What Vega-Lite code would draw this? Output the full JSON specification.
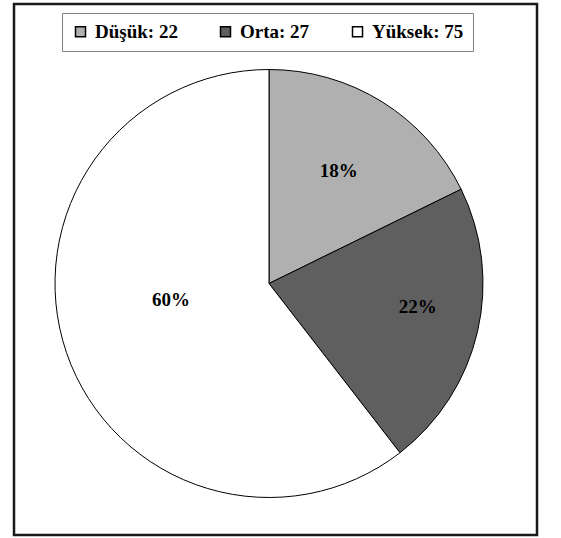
{
  "$schema": "https://vega.github.io/schema/vega-lite/v6.json",
  "width": 523,
  "height": 531,
  "autosize": "none",
  "padding": {"left": 14, "top": 4, "right": 24, "bottom": 3},
  "background": "white",
  "view": {"stroke": "#1a1a1a", "strokeWidth": 2.5},
  "data": {
    "values": [
      {"kategori": "Düşük", "sayi": 22, "sira": 1},
      {"kategori": "Orta", "sayi": 27, "sira": 2},
      {"kategori": "Yüksek", "sayi": 75, "sira": 3}
    ]
  },
  "transform": [
    {"joinaggregate": [{"op": "sum", "field": "sayi", "as": "toplam"}]},
    {"calculate": "format(datum.sayi / datum.toplam, '.0%')", "as": "yuzde"},
    {"calculate": "datum.kategori + ': ' + datum.sayi", "as": "etiket"},
    {"stack": "sayi", "groupby": [], "sort": [{"field": "sira", "order": "ascending"}], "as": ["bas", "son"]},
    {"calculate": "(datum.bas + datum.son) / 2", "as": "orta"}
  ],
  "layer": [
    {
      "mark": {"type": "arc", "radius": 214, "stroke": "black", "strokeWidth": 1, "xOffset": -6.5, "yOffset": 14},
      "encoding": {
        "theta": {"field": "bas", "type": "quantitative", "scale": {"domain": [0, 124]}},
        "theta2": {"field": "son"},
        "color": {
          "field": "etiket",
          "type": "nominal",
          "scale": {"domain": ["Düşük: 22", "Orta: 27", "Yüksek: 75"], "range": ["#b0b0b0", "#5f5f5f", "#ffffff"]},
          "legend": {
            "title": null,
            "orient": "none",
            "legendX": 48,
            "legendY": 9,
            "direction": "horizontal",
            "symbolType": "square",
            "symbolSize": 100,
            "symbolStrokeColor": "black",
            "symbolStrokeWidth": 1.5,
            "labelFont": "Liberation Serif",
            "labelFontSize": 19,
            "labelFontWeight": "bold",
            "labelColor": "black",
            "labelOffset": 5,
            "columnPadding": 38,
            "padding": 9,
            "strokeColor": "#808080",
            "fillColor": "white"
          }
        }
      }
    },
    {
      "transform": [{"filter": "datum.sira == 1"}],
      "mark": {"type": "text", "radius": 132, "xOffset": -6.5, "yOffset": 14, "font": "Liberation Serif", "fontSize": 19, "fontWeight": "bold", "color": "black"},
      "encoding": {
        "theta": {"field": "orta", "type": "quantitative", "scale": {"domain": [0, 124]}},
        "text": {"field": "yuzde", "type": "nominal"}
      }
    },
    {
      "transform": [{"filter": "datum.sira == 2"}],
      "mark": {"type": "text", "radius": 149, "xOffset": -3, "yOffset": 4, "font": "Liberation Serif", "fontSize": 19, "fontWeight": "bold", "color": "black"},
      "encoding": {
        "theta": {"field": "orta", "type": "quantitative", "scale": {"domain": [0, 124]}},
        "text": {"field": "yuzde", "type": "nominal"}
      }
    },
    {
      "transform": [{"filter": "datum.sira == 3"}],
      "mark": {"type": "text", "radius": 101, "xOffset": -9, "yOffset": -2, "font": "Liberation Serif", "fontSize": 19, "fontWeight": "bold", "color": "black"},
      "encoding": {
        "theta": {"field": "orta", "type": "quantitative", "scale": {"domain": [0, 124]}},
        "text": {"field": "yuzde", "type": "nominal"}
      }
    }
  ]
}
